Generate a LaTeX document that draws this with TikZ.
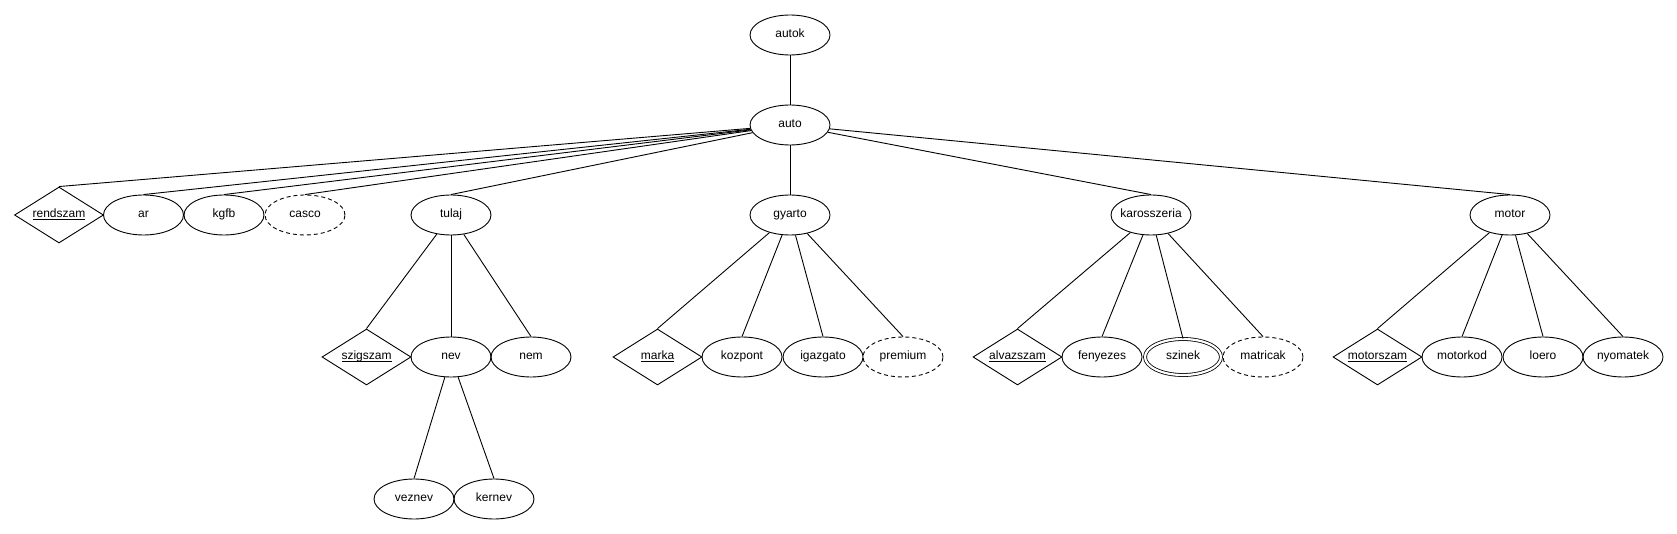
\documentclass[tikz,border=0pt]{standalone}
\usepackage{fontspec}
\setmainfont{Liberation Sans}
\usepackage{amsmath}
\usetikzlibrary{shapes.geometric}
\newcommand\ertxt[1]{\makebox[0pt]{#1}}
\newcommand\erkey[1]{$\underline{\smash{\text{#1}}}$}
\tikzset{
  base/.style={draw, line width=0.9pt, inner sep=0pt, text height=8.5pt, text depth=3pt, font=\fontsize{12}{14}\selectfont},
  attr/.style={base, ellipse, minimum width=80pt, minimum height=40pt},
  optattr/.style={attr, dash pattern=on 4pt off 3pt},
  multiattr/.style={base, ellipse, double, double distance=2.2pt, line width=0.8pt, minimum width=76pt, minimum height=36pt},
  keyattr/.style={base, diamond, minimum width=89pt, minimum height=56pt, shape aspect=1.59},
  edge/.style={line width=0.9pt}
}
\begin{document}
\begin{tikzpicture}[x=1pt,y=-1pt]
\useasboundingbox (0,0) rectangle (1677,534);
% top
\node[attr] (autok) at (790,35) {\ertxt{autok}};
\node[attr] (auto) at (790,125) {\ertxt{auto}};
% level 1
\node[keyattr] (rendszam) at (59,215) {\ertxt{\erkey{rendszam}}};
\node[attr] (ar) at (143.5,215) {\ertxt{ar}};
\node[attr] (kgfb) at (224,215) {\ertxt{kgfb}};
\node[optattr] (casco) at (305,215) {\ertxt{casco}};
\node[attr] (tulaj) at (451,215) {\ertxt{tulaj}};
\node[attr] (gyarto) at (790,215) {\ertxt{gyarto}};
\node[attr] (karosszeria) at (1151,215) {\ertxt{karosszeria}};
\node[attr] (motor) at (1510,215) {\ertxt{motor}};
% tulaj children
\node[keyattr] (szigszam) at (366.5,357) {\ertxt{\erkey{szigszam}}};
\node[attr] (nev) at (451,357) {\ertxt{nev}};
\node[attr] (nem) at (531,357) {\ertxt{nem}};
\node[attr] (veznev) at (414,499) {\ertxt{veznev}};
\node[attr] (kernev) at (494,499) {\ertxt{kernev}};
% gyarto children
\node[keyattr] (marka) at (657.5,357) {\ertxt{\erkey{marka}}};
\node[attr] (kozpont) at (742,357) {\ertxt{kozpont}};
\node[attr] (igazgato) at (823,357) {\ertxt{igazgato}};
\node[optattr] (premium) at (903,357) {\ertxt{premium}};
% karosszeria children
\node[keyattr] (alvazszam) at (1017.5,357) {\ertxt{\erkey{alvazszam}}};
\node[attr] (fenyezes) at (1102,357) {\ertxt{fenyezes}};
\node[multiattr] (szinek) at (1183,357) {\ertxt{szinek}};
\node[optattr] (matricak) at (1263,357) {\ertxt{matricak}};
% motor children
\node[keyattr] (motorszam) at (1377.5,357) {\ertxt{\erkey{motorszam}}};
\node[attr] (motorkod) at (1462,357) {\ertxt{motorkod}};
\node[attr] (loero) at (1543,357) {\ertxt{loero}};
\node[attr] (nyomatek) at (1623,357) {\ertxt{nyomatek}};
% edges
\draw[edge] (autok) -- (auto);
\foreach \c in {rendszam,ar,kgfb,casco,tulaj,gyarto,karosszeria,motor}
  \draw[edge] (auto) -- (\c.north);
\foreach \c in {szigszam,nev,nem}
  \draw[edge] (tulaj) -- (\c.north);
\foreach \c in {veznev,kernev}
  \draw[edge] (nev) -- (\c.north);
\foreach \c in {marka,kozpont,igazgato,premium}
  \draw[edge] (gyarto) -- (\c.north);
\foreach \c in {alvazszam,fenyezes,szinek,matricak}
  \draw[edge] (karosszeria) -- (\c.north);
\foreach \c in {motorszam,motorkod,loero,nyomatek}
  \draw[edge] (motor) -- (\c.north);
\end{tikzpicture}
\end{document}
